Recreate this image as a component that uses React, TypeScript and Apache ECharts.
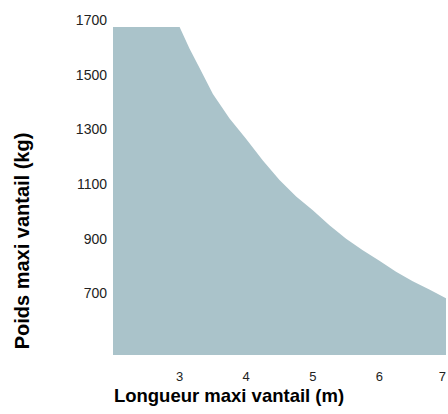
import React, { useEffect, useRef } from "react";
import * as echarts from "echarts";

const lengths = [2, 3, 3.15, 3.3, 3.5, 3.75, 4, 4.25, 4.5, 4.75, 5, 5.25, 5.5, 5.75, 6, 6.25, 6.5, 6.75, 7];
const weights = [1700, 1700, 1620, 1550, 1455, 1365, 1290, 1212, 1140, 1080, 1030, 975, 925, 883, 845, 805, 770, 740, 708];

const xTitle = "Longueur maxi vantail (m)";
const yTitle = "Poids maxi vantail (kg)";

const FONT = "'Liberation Sans', Arial, Helvetica, sans-serif";

export default function App() {
  const ref = useRef<HTMLDivElement>(null);
  useEffect(() => {
    document.body.style.margin = "0";
    if (!ref.current) return;
    const chart = echarts.init(ref.current, null, { renderer: "svg" });
    chart.setOption({
      animation: false,
      backgroundColor: "#ffffff",
      grid: { left: 113, top: 27, right: 2, bottom: 59, containLabel: false, outerBoundsMode: "none" },
      xAxis: {
        type: "value",
        min: 2,
        max: 7,
        interval: 1,
        axisLine: { show: false },
        axisTick: { show: false },
        splitLine: { show: false },
        axisLabel: {
          showMinLabel: false,
          alignMaxLabel: "right",
          margin: 15,
          fontSize: 13,
          color: "#222",
          fontFamily: FONT,
          formatter: (v: number) => String(v),
        },
      },
      yAxis: {
        type: "value",
        min: 500,
        max: 1700,
        interval: 200,
        axisLine: { show: false },
        axisTick: { show: false },
        splitLine: { show: false },
        axisLabel: {
          showMinLabel: false,
          margin: 6,
          fontSize: 14,
          color: "#222",
          verticalAlign: "bottom",
          fontFamily: FONT,
          formatter: (v: number) => String(v),
        },
      },
      series: [
        {
          type: "line",
          data: lengths.map((l, i) => [l, weights[i]]),
          showSymbol: false,
          lineStyle: { width: 0, color: "#aac3ca" },
          itemStyle: { color: "#aac3ca" },
          areaStyle: { color: "#aac3ca", opacity: 1, origin: "start" },
        },
      ],
      graphic: [
        {
          type: "text",
          x: 229,
          y: 395,
          style: {
            text: xTitle,
            fontSize: 18.5,
            fontWeight: "bold",
            fontFamily: FONT,
            fill: "#000",
            align: "center",
            verticalAlign: "middle",
          },
        },
        {
          type: "text",
          x: 22,
          y: 241,
          rotation: Math.PI / 2,
          style: {
            text: yTitle,
            fontSize: 20,
            fontWeight: "bold",
            fontFamily: FONT,
            fill: "#000",
            align: "center",
            verticalAlign: "middle",
          },
        },
      ],
    });
    return () => chart.dispose();
  }, []);
  return <div ref={ref} style={{ width: 448, height: 414 }} />;
}
